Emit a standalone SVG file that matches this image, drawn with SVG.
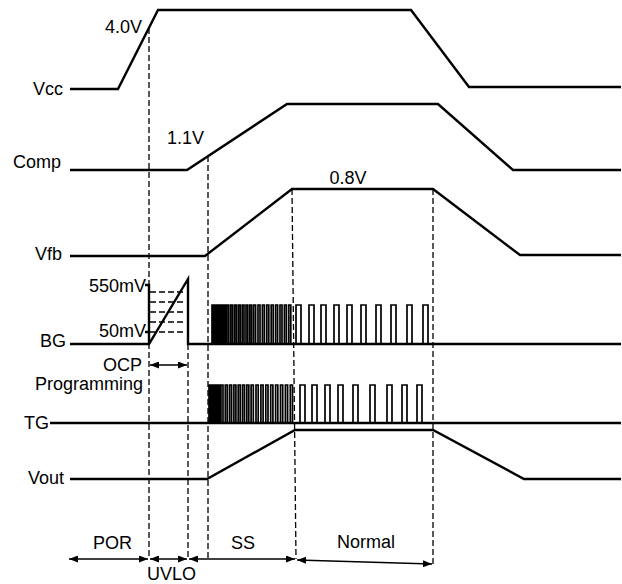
<svg xmlns="http://www.w3.org/2000/svg" width="622" height="584" viewBox="0 0 622 584">
<style>
text{font-family:"Liberation Sans",Arial,Helvetica,sans-serif;font-size:18px;fill:#000}
.w{fill:none;stroke:#000;stroke-width:2.4;stroke-linejoin:miter}
.p{fill:none;stroke:#000;stroke-width:1.7}
.d{fill:none;stroke:#000;stroke-width:1.3;stroke-dasharray:6 3}
.a{fill:none;stroke:#000;stroke-width:1.3}
.e{text-anchor:end}
.m{text-anchor:middle}
</style>
<defs>
<marker id="ah" viewBox="0 0 9 7" refX="9" refY="3.5" markerWidth="9" markerHeight="7" markerUnits="userSpaceOnUse" orient="auto-start-reverse"><path d="M0,0L9,3.5L0,7z" fill="#000"/></marker>
</defs>
<g id="vcc"><text class="e" x="63" y="95">Vcc</text><path class="w" d="M70,89H118L158,10H411L469,87H621"/><text x="105" y="33">4.0V</text></g>
<g id="comp"><text class="e" x="61" y="168">Comp</text><path class="w" d="M70,170H187L287,104H438L513,170H621"/><text x="167" y="144">1.1V</text></g>
<g id="vfb"><text class="e" x="62" y="260">Vfb</text><path class="w" d="M70,256H205L292,189H433L520,255H621"/><text class="m" x="348" y="184">0.8V</text></g>
<g id="bg"><text class="e" x="66" y="347">BG</text>
<path class="w" d="M70,344H149L188,279V344H621"/>
<path class="w" d="M145,285H149V344M145,332H149" stroke-width="1.8"/>
<path class="p" d="M212,344v-39h1.5v39h1.5v-39h1.5v39h1.5v-39h1.5v39h1.5v-39h1.5v39h1.5v-39h1.5v39h1.5v-39h1.8v39h2v-39h1.8v39h2v-39h1.8v39h2v-39h1.8v39h2v-39h1.8v39h2v-39h1.8v39h2v-39h1.8v39h2v-39h2v39h2.4v-39h2v39h2.4v-39h2v39h2.4v-39h2v39h2.4v-39h2v39h2.4v-39h2v39h2.4v-39h2v39h2.4v-39h2v39h2.4v-39h2v39h2.4H296V305H301V344H309V305H314V344H321V305H326V344H334V305H339V344H347V305H352V344H361V305H366V344H376V305H381V344H391V305H396V344H407V305H412V344H423V305H428V344"/>
<path class="d" d="M150,292H186M150,302H186M150,312H186M150,322H186M150,332H186"/>
<text class="e" x="146" y="292">550mV</text><text class="e" x="146" y="337">50mV</text>
<text class="e" x="142" y="371">OCP</text><text class="e" x="143" y="390">Programming</text>
<path class="a" d="M150,365H187" marker-start="url(#ah)" marker-end="url(#ah)" stroke-width="1.8"/>
</g>
<g id="tg"><text class="e" x="49" y="429">TG</text>
<path class="w" d="M50,423H621"/>
<path class="p" d="M209,423v-38h1.5v38h1.5v-38h1.5v38h1.5v-38h1.5v38h1.5v-38h1.5v38h1.5v-38h2v38h2.3v-38h2v38h2.3v-38h2v38h2.3v-38h2v38h2.3v-38h2v38h2.3v-38h2v38h2.3v-38h2v38h2.3v-38h2.2v38h2.7v-38h2.2v38h2.7v-38h2.2v38h2.7v-38h2.2v38h2.7v-38h2.2v38h2.7v-38h2.2v38h2.7v-38h2.2v38h2.7v-38h2.2v38h2.7v-38h2.2v38h2.7H300V385H305V423H312V385H317V423H325V385H330V423H338V385H343V423H353V385H358V423H370V385H375V423H387V385H392V423H402V385H407V423H417V385H422V423"/>
</g>
<g id="vout"><text class="e" x="64" y="484">Vout</text><path class="w" d="M70,479H207L295,430H433L524,479H621"/></g>
<g id="connectors">
<path class="d" d="M149,28V559M188,344V559M208,156V559M292,189L296,559M433,189V564"/>
<path class="a" d="M69,559H148" marker-start="url(#ah)" marker-end="url(#ah)"/>
<path class="a" d="M150,559H187" marker-start="url(#ah)" marker-end="url(#ah)"/>
<path class="a" d="M189,559H295" marker-start="url(#ah)" marker-end="url(#ah)"/>
<path class="a" d="M297,560L432,564" marker-start="url(#ah)" marker-end="url(#ah)"/>
</g>
<g id="phases">
<text x="93" y="549">POR</text><text x="231" y="549">SS</text><text x="337" y="548">Normal</text><text x="147" y="580">UVLO</text>
</g>
</svg>
